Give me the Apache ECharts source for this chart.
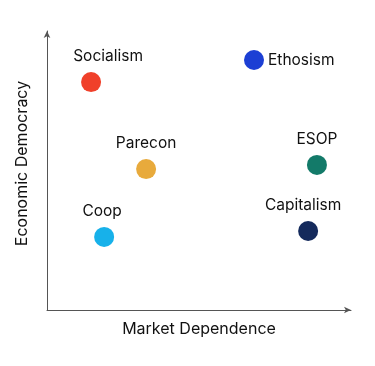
<!DOCTYPE html>
<html><head><meta charset="utf-8">
<script src="https://cdn.jsdelivr.net/npm/echarts@6/dist/echarts.min.js"></script>
<style>html,body{margin:0;padding:0;background:#fff}#c{width:375px;height:366px}</style>
</head><body><div id="c"></div>
<script>
const names = ["Socialism","Ethosism","Parecon","ESOP","Coop","Capitalism"];
const marketDependence = [14.5, 68.1, 32.6, 88.8, 18.8, 85.9];
const economicDemocracy = [81.7, 89.6, 50.5, 52.0, 26.2, 28.3];
const colors = ["#f0402a","#1c3fd4","#e8aa3c","#137a69","#17b1ea","#142a5c"];
const labelPos = ["top","right","top","top","top","top"];
const labelOff = [[17,0],[0,0],[0,0],[0,0],[-2,0],[-5,0]];
const FONT = "Inter, 'Liberation Sans', sans-serif";
const chart = echarts.init(document.getElementById('c'));
chart.setOption({
  animation:false,
  grid:{left:47,top:31,right:24,bottom:56},
  xAxis:{type:'value',min:0,max:100,name:'Market Dependence',nameLocation:'middle',nameGap:11,
    nameTextStyle:{fontFamily:FONT,fontSize:16,color:'#111',verticalAlign:'top'},
    axisLine:{show:true,lineStyle:{color:'#555',width:1},symbol:['none','arrow'],symbolSize:[5,7]},
    axisTick:{show:false},axisLabel:{show:false},splitLine:{show:false}},
  yAxis:{type:'value',min:0,max:100,name:'Economic Democracy',nameLocation:'middle',nameGap:17,
    nameTextStyle:{fontFamily:FONT,fontSize:16,color:'#111',padding:[0,0,0,14]},
    axisLine:{show:true,lineStyle:{color:'#555',width:1},symbol:['none','arrow'],symbolSize:[5,7]},
    axisTick:{show:false},axisLabel:{show:false},splitLine:{show:false}},
  series:[{type:'scatter',symbolSize:20,
    data:names.map((n,i)=>({name:n,value:[marketDependence[i],economicDemocracy[i]],
      itemStyle:{color:colors[i],opacity:1},
      label:{show:true,formatter:n,position:labelPos[i],distance:labelPos[i]==='right'?4:8,offset:labelOff[i],
        fontFamily:FONT,fontSize:15.5,color:'#111'}}))}]
});
</script></body></html>
